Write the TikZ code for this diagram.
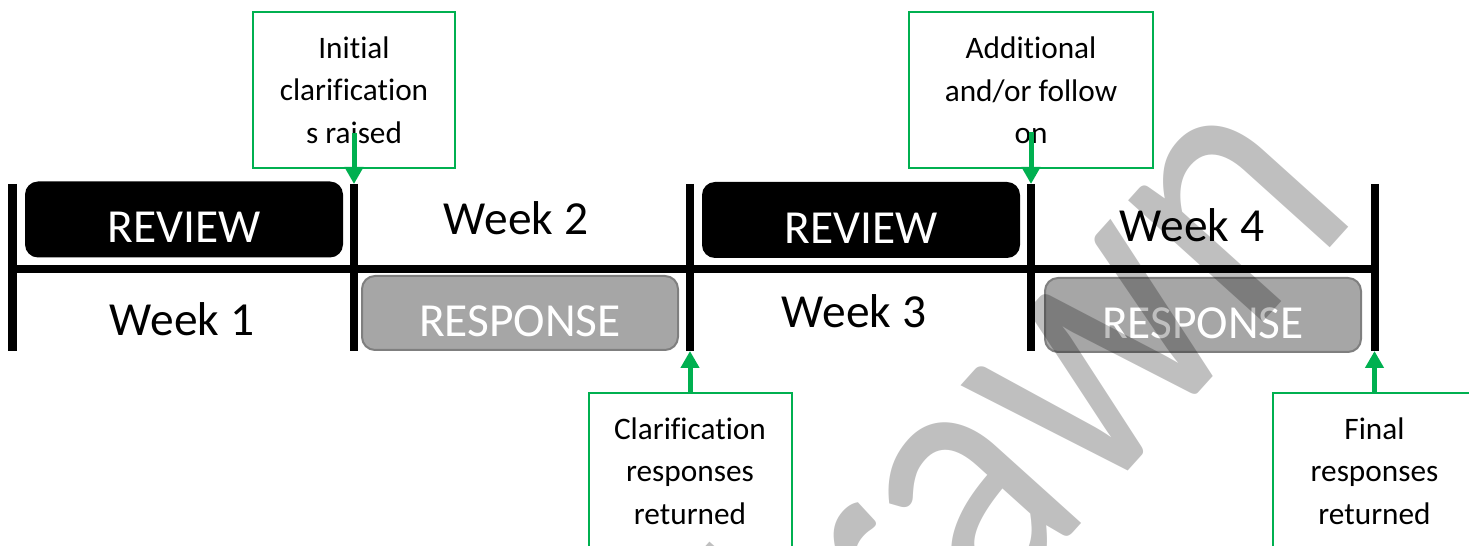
\documentclass[tikz,border=0pt]{standalone}
\usepackage{fontspec}
\setmainfont{Carlito}[Ligatures=NoCommon]
\usepackage{tikz}
\usetikzlibrary{arrows.meta,calc,positioning}
\definecolor{calloutgreen}{HTML}{00B050}
\definecolor{respgray}{HTML}{A6A6A6}
\definecolor{respedge}{HTML}{7F7F7F}
\newcommand\TickTop{-1.84}
\newcommand\TickBot{-3.51}
\newcommand\LineY{-2.69}
\tikzset{
  timeline/.style={
    line width=0.08cm,
    black
  },
  reviewbox/.style={
    shape=rectangle,
    rounded corners=0.13cm,
    fill=black,
    text=white,
    minimum width=3.18cm,
    minimum height=0.76cm,
    inner sep=0pt,
    text height=0.47cm,
    text depth=0cm,
    font=\fontsize{13.5}{14}\selectfont
  },
  responsebox/.style={
    shape=rectangle,
    rounded corners=0.13cm,
    fill=respgray,
    draw=respedge,
    line width=0.02cm,
    text=white,
    minimum width=3.16cm,
    minimum height=0.74cm,
    inner sep=0pt,
    text height=0.47cm,
    text depth=0cm,
    font=\fontsize{13.5}{14}\selectfont
  },
  week/.style={
    anchor=base,
    inner sep=0pt,
    font=\fontsize{13.5}{14}\selectfont
  },
  callout/.style={
    shape=rectangle,
    draw=calloutgreen,
    line width=0.02cm,
    fill=white,
    align=center,
    minimum width=2.03cm,
    minimum height=1.56cm,
    inner sep=0pt,
    font=\fontsize{8.9}{12.1}\selectfont
  },
  callarrow/.style={
    draw=calloutgreen,
    line width=0.05cm,
    -{Triangle[width=0.18cm,length=0.17cm]}
  },
  watermark/.style={
    anchor=base east,
    rotate=48,
    xscale=0.85,
    inner sep=0pt,
    text=black,
    text opacity=0.25,
    font=\fontsize{108}{108}\selectfont
  }
}
\begin{document}
\begin{tikzpicture}
        \useasboundingbox (0,0) rectangle (14.69,-5.46);
        \clip (0,0) rectangle (14.69,-5.46);

        % week boundaries
        \coordinate (t1top) at (0.125,\TickTop);
        \coordinate (t1bot) at (0.125,\TickBot);
        \coordinate (t2top) at (3.54,\TickTop);
        \coordinate (t2bot) at (3.54,\TickBot);
        \coordinate (t3top) at (6.90,\TickTop);
        \coordinate (t3bot) at (6.90,\TickBot);
        \coordinate (t4top) at (10.31,\TickTop);
        \coordinate (t4bot) at (10.31,\TickBot);
        \coordinate (t5top) at (13.745,\TickTop);
        \coordinate (t5bot) at (13.745,\TickBot);

        \draw[timeline] (0.125,\LineY) -- (13.745,\LineY);
        \draw[timeline] (t1top) -- (t1bot);
        \draw[timeline] (t2top) -- (t2bot);
        \draw[timeline] (t3top) -- (t3bot);
        \draw[timeline] (t4top) -- (t4bot);
        \draw[timeline] (t5top) -- (t5bot);

        \node[reviewbox] (rev1) at (1.84,-2.195) {REVIEW};
        \node[reviewbox] (rev2) at (8.61,-2.20) {REVIEW};
        \node[responsebox] (resp1) at (5.20,-3.13) {RESPONSE};
        \node[responsebox] (resp2) at (12.03,-3.15) {RESPONSE};

        \node[week] (wk1) at (1.82,-3.36) {Week 1};
        \node[week] (wk2) at (5.16,-2.35) {Week 2};
        \node[week] (wk3) at (8.54,-3.28) {Week 3};
        \node[week] (wk4) at (11.92,-2.42) {Week 4};

        % callouts
        \node[callout, minimum width=2.02cm] (init) at (3.54,-0.90) {Initial\\clarification\\s raised};
        \node[callout, minimum width=2.44cm] (follow) at (10.31,-0.905) {Additional\\and/or follow\\on};
        \node[callout] (clarif) at (6.90,-4.71) {Clarification\\responses\\returned};
        \node[callout] (final) at (13.745,-4.71) {Final\\responses\\returned};

        \draw[callarrow] ([yshift=0.36cm]init.south) -- (t2top);
        \draw[callarrow] ([yshift=0.37cm]follow.south) -- (t4top);
        \draw[callarrow] (clarif.north) -- (t3bot);
        \draw[callarrow] (final.north) -- (t5bot);

        \node[watermark] (wm) at (13.62,-2.12) {Withdrawn};
\end{tikzpicture}
\end{document}
